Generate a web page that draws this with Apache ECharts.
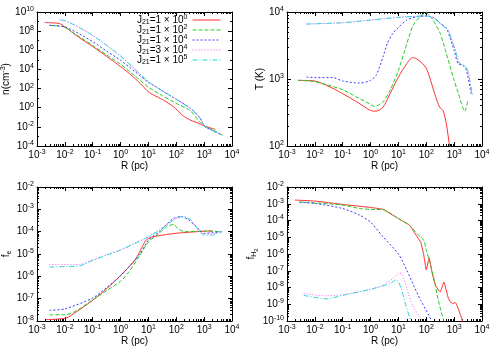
<!DOCTYPE html>
<html>
<head>
<meta charset="utf-8">
<script src="https://cdn.jsdelivr.net/npm/echarts@6/dist/echarts.min.js"></script>
<style>
html, body { margin: 0; padding: 0; background: #fff; }
#chart { width: 500px; height: 350px; }
</style>
</head>
<body>
<div id="chart"></div>
<script type="text/javascript">
var FONT = '"Liberation Sans", Arial, Helvetica, sans-serif';

// runs (J21 values)
var runNames = ['J0', 'J2', 'J4', 'J34', 'J5'];
var runLabels = ['J{sub|21}=1 × 10{sup|0}', 'J{sub|21}=1 × 10{sup|2}', 'J{sub|21}=1 × 10{sup|4}',
	'J{sub|21}=3 × 10{sup|4}', 'J{sub|21}=1 × 10{sup|5}'];
var runColors = ['#ff3030', '#22cc22', '#3a3aff', '#ff55ff', '#22d8d8'];
var runDash = ['solid', [4, 2], [2, 2], [1, 2], [5, 2, 1, 2]];

// tick values
var xTicks = [1e-3, 1e-2, 1e-1, 1, 10, 100, 1e3, 1e4];
var nTicks = [1e-4, 1e-2, 1, 1e2, 1e4, 1e6, 1e8, 1e10];
var nOddTicks = [1e-3, 1e-1, 10, 1e3, 1e5, 1e7, 1e9];
var tTicks = [100, 1e3, 1e4];
var feTicks = [1e-8, 1e-7, 1e-6, 1e-5, 1e-4, 1e-3, 1e-2];
var fhTicks = [1e-10, 1e-9, 1e-8, 1e-7, 1e-6, 1e-5, 1e-4, 1e-3, 1e-2];

// n (cm^-3) vs R (pc)
var nJ0 = [[1.9e-3, 7.9e8], [6.3e-3, 6.3e8], [0.01, 2.8e8], [0.032, 2.24e7], [0.1, 2.5e6], [0.32, 2.24e5],
	[1, 2e4], [2.8, 1.78e3], [6.3, 178], [10, 45], [16, 20], [32, 7.1], [80, 1.26], [178, 0.14],
	[316, 0.052], [720, 0.02], [1000, 0.0126], [2500, 5.5e-3]];
var nJ2 = [[2.8e-3, 4e8], [6.3e-3, 3.5e8], [0.01, 2.5e8], [0.032, 2.8e7], [0.1, 3.2e6], [0.32, 3.2e5],
	[1, 3.5e4], [3.2, 2.2e3], [10, 141], [32, 17.8], [100, 2.9], [316, 0.49], [720, 0.028],
	[1000, 0.0126], [2000, 5e-3], [4470, 1.4e-3]];
var nJ4 = [[2.8e-3, 4e8], [0.01, 2.8e8], [0.032, 5.6e7], [0.1, 7.9e6], [0.32, 7.9e5], [1, 8.9e4],
	[3.2, 6.3e3], [10, 450], [16, 200], [32, 56], [100, 7.6], [316, 0.9], [720, 0.08],
	[1000, 0.0126], [2000, 4e-3], [4470, 1.4e-3]];
var nJ34 = [[6.3e-3, 1.45e9], [0.01, 1.3e9], [0.032, 2.6e8], [0.1, 3.7e7], [0.32, 3.3e6], [1, 2.6e5],
	[3.2, 1.1e4], [10, 525], [32, 56], [100, 7.6], [316, 0.87], [720, 0.08], [1000, 0.0126],
	[2000, 4e-3], [4470, 1.4e-3]];
var nJ5 = [[7.1e-3, 1.4e9], [0.01, 1.26e9], [0.032, 2.5e8], [0.1, 3.5e7], [0.32, 3.2e6], [1, 2.5e5],
	[3.2, 1.1e4], [10, 525], [32, 56], [100, 7.6], [316, 0.87], [720, 0.08], [1000, 0.0126],
	[2000, 4e-3], [4470, 1.4e-3]];

// T (K) vs R (pc)
var tJ0 = [[2.5e-3, 955], [0.01, 933], [0.045, 724], [0.1, 603], [0.32, 457], [1, 339], [1.6, 331],
	[2.8, 380], [5, 603], [10, 1070], [20, 1700], [32, 2090], [50, 1950], [100, 1450], [200, 603],
	[300, 380], [400, 339], [525, 214], [690, 100], [890, 63]];
var tJ2 = [[2.5e-3, 955], [0.01, 912], [0.1, 692], [0.32, 537], [1, 417], [1.4, 389], [2.8, 457],
	[5, 676], [10, 1350], [17, 2690], [32, 6030], [59, 8510], [100, 9770], [174, 7590], [316, 4790],
	[525, 2400], [1000, 955], [1380, 631], [2400, 330], [3200, 490]];
var tJ4 = [[5e-3, 1070], [0.01, 1050], [0.045, 1050], [0.1, 933], [0.4, 871], [1, 955], [1.6, 1150],
	[2.8, 2140], [4, 3390], [6.3, 4790], [10, 5890], [20, 7590], [45, 8510], [100, 8710], [174, 8320],
	[316, 6760], [525, 5750], [690, 4270], [1000, 2690], [1380, 1700], [2090, 1580], [2750, 1350],
	[4070, 603]];
var tJ34 = [[5e-3, 6610], [0.1, 6920], [1, 7590], [10, 8320], [100, 8710], [200, 8130], [316, 6760],
	[600, 5370], [1000, 3020], [1580, 1700], [2400, 1580], [3160, 1290], [4470, 575]];
var tJ5 = [[5e-3, 6610], [0.1, 6920], [1, 7590], [10, 8320], [100, 8710], [200, 8130], [316, 6760],
	[600, 5370], [1000, 3020], [1580, 1700], [2400, 1580], [3160, 1290], [4470, 575]];

// f_e vs R (pc)
var feJ0 = [[2.1e-3, 1.15e-8], [0.011, 1.35e-8], [0.025, 2.5e-8], [0.1, 8.5e-8], [0.32, 2.8e-7],
	[1, 1.1e-6], [3.2, 5e-6], [5.6, 1.78e-5], [8, 4e-5], [12.6, 5.6e-5], [32, 7e-5], [100, 8.5e-5],
	[1000, 1.05e-4], [2000, 1.1e-4]];
var feJ2 = [[2.8e-3, 1.9e-8], [0.01, 1.9e-8], [0.025, 2.8e-8], [0.1, 8.9e-8], [0.32, 2.3e-7], [1, 6e-7],
	[2, 1.6e-6], [5, 8.9e-6], [10, 3.5e-5], [20, 6.9e-5], [45, 1.66e-4], [80, 2.1e-4], [112, 1.4e-4],
	[200, 1e-4], [1000, 1.05e-4], [4000, 1e-4]];
var feJ4 = [[2.8e-3, 3e-8], [0.01, 3.5e-8], [0.1, 1.07e-7], [0.32, 3.2e-7], [1, 1.05e-6], [5, 1.05e-5],
	[10, 4.2e-5], [25, 1e-4], [45, 2.1e-4], [80, 4e-4], [160, 4.7e-4], [280, 3.3e-4], [525, 1.66e-4],
	[690, 1.17e-4], [1000, 8.3e-5], [2000, 9.1e-5], [4470, 1e-4]];
var feJ34 = [[2.8e-3, 3.4e-6], [0.034, 3.4e-6], [0.1, 5.6e-6], [0.32, 9.3e-6], [1, 1.55e-5], [2.8, 2.8e-5],
	[10, 6e-5], [25, 1.2e-4], [80, 3.4e-4], [160, 4.8e-4], [316, 3.5e-4], [690, 1.05e-4], [1000, 8e-5],
	[2000, 8e-5], [4470, 1e-4]];
var feJ5 = [[2.8e-3, 2.6e-6], [0.01, 2.75e-6], [0.034, 2.95e-6], [0.1, 5.2e-6], [0.32, 8.9e-6], [1, 1.5e-5],
	[2.8, 2.7e-5], [10, 5.9e-5], [25, 1.17e-4], [80, 3.3e-4], [160, 4.7e-4], [316, 3.5e-4], [690, 1e-4],
	[1000, 6.9e-5], [2000, 7.2e-5], [4470, 1e-4]];

// f_H2 vs R (pc)
var fhJ0 = [[1.9e-3, 1.66e-3], [0.01, 1.45e-3], [0.1, 9.1e-4], [1, 6e-4], [2.8, 4.6e-4], [10, 1.3e-4],
	[25, 5.2e-5], [45, 1.2e-5], [63, 5e-6], [80, 1e-6], [100, 1.1e-7], [126, 6e-7], [160, 8e-8],
	[214, 1.35e-8], [316, 5.4e-9], [427, 2.1e-8], [630, 2.1e-9], [850, 1.07e-9], [1120, 1.26e-9],
	[2000, 1e-10], [2500, 3.2e-11]];
var fhJ2 = [[2.8e-3, 1.3e-3], [0.1, 8.3e-4], [0.4, 5.2e-4], [1, 4.6e-4], [2.8, 4.4e-4], [10, 1.3e-4],
	[25, 5.2e-5], [45, 1.7e-5], [80, 6.8e-6], [100, 1.7e-6], [150, 1.7e-7], [200, 2.1e-8], [263, 2.1e-9],
	[347, 3.4e-10], [427, 1e-10], [500, 4e-11]];
var fhJ4 = [[2.8e-3, 1.2e-3], [0.01, 1.05e-3], [0.1, 5.2e-4], [0.4, 2.1e-4], [1, 7.9e-5], [2.8, 1.07e-5],
	[10, 1e-6], [20, 1.07e-7], [35, 1.35e-8], [63, 1.7e-9], [126, 2.1e-10], [160, 8e-11]];
var fhJ34 = [[4e-3, 4.3e-9], [0.025, 3.2e-9], [0.1, 3.7e-9], [1, 7.9e-9], [2.8, 1.35e-8], [6.3, 3.4e-8],
	[11.2, 7.4e-8], [14.5, 5e-8], [20, 8.5e-9], [32, 8.5e-10], [59, 1.7e-10], [80, 8e-11]];
var fhJ5 = [[4e-3, 3.4e-9], [0.025, 2.1e-9], [0.1, 3.4e-9], [1, 7.9e-9], [5, 1.7e-8], [8.5, 2.95e-8],
	[12.6, 8.5e-9], [20, 5.4e-10], [28, 1e-10], [32, 5e-11]];

// minor log ticks 2..9 x 10^e between two exponents
function minorTicks(lo, hi) {
	var out = [];
	for (var e = lo; e < hi; e++) {
		for (var k = 2; k < 10; k++) out.push(k * Math.pow(10, e));
	}
	return out;
}

function powLabel(v) {
	return '10{s|' + Math.round(Math.log10(v)) + '}';
}

var nameRich = {
	s: { fontSize: 7, padding: [0, 0, 6, 0], fontFamily: FONT, color: '#000' },
	sub: { fontSize: 7, padding: [6, 0, 0, 0], fontFamily: FONT, color: '#000' },
	sub2: { fontSize: 6, padding: [10, 0, 0, 0], fontFamily: FONT, color: '#000' }
};

// 4 axes for one side pair: main (labels + major ticks), minor, mirror main, mirror minor
function logAxes(kind, g, min, max, major, minor, labels, name, nameGap) {
	var sides = kind === 'x' ? ['bottom', 'top'] : ['left', 'right'];
	var list = [];
	sides.forEach(function(p, i) {
		list.push({
			gridIndex: g, type: 'log', logBase: 10, min: min, max: max, position: p,
			axisLine: { show: true, onZero: false, lineStyle: { color: '#000', width: 1 } },
			axisTick: { show: true, inside: true, length: 4, customValues: major, lineStyle: { color: '#000', width: 1 } },
			axisLabel: i === 0 ? {
				show: true, customValues: labels, formatter: powLabel, margin: 3,
				color: '#000', fontSize: 10, fontFamily: FONT,
				rich: { s: { fontSize: 7, padding: [0, 0, 6, 0], fontFamily: FONT, color: '#000' } }
			} : { show: false },
			splitLine: { show: false },
			name: i === 0 ? name : '',
			nameLocation: 'middle',
			nameGap: nameGap,
			nameTextStyle: { color: '#000', fontSize: 10, fontFamily: FONT, rich: nameRich }
		});
		list.push({
			gridIndex: g, type: 'log', logBase: 10, min: min, max: max, position: p,
			axisLine: { show: false, onZero: false },
			axisTick: { show: true, inside: true, length: 2, customValues: minor, lineStyle: { color: '#000', width: 1 } },
			axisLabel: { show: false },
			splitLine: { show: false }
		});
	});
	return list;
}

var grids = [
	{ left: 37, top: 12, width: 195, height: 134 },
	{ left: 287, top: 12, width: 195, height: 134 },
	{ left: 37, top: 187, width: 195, height: 134 },
	{ left: 287, top: 187, width: 195, height: 134 }
];
grids.forEach(function(gr) { gr.outerBoundsMode = 'none'; gr.containLabel = false; });

var xMinor = minorTicks(-3, 4);
var xAxes = [], yAxes = [];
for (var g = 0; g < 4; g++) {
	xAxes = xAxes.concat(logAxes('x', g, 1e-3, 1e4, xTicks, xMinor, xTicks, 'R (pc)', 14));
}
yAxes = yAxes.concat(logAxes('y', 0, 1e-4, 1e10, nTicks, nOddTicks, nTicks, 'n(cm{s|-3})', 24));
yAxes = yAxes.concat(logAxes('y', 1, 100, 1e4, tTicks, minorTicks(2, 4), tTicks, 'T (K)', 19));
yAxes = yAxes.concat(logAxes('y', 2, 1e-8, 1e-2, feTicks, minorTicks(-8, -2), feTicks, 'f{sub|e}', 22));
yAxes = yAxes.concat(logAxes('y', 3, 1e-10, 1e-2, fhTicks, minorTicks(-10, -2), fhTicks, 'f{sub|H}{sub2|2}', 21));

var panels = [
	[nJ0, nJ2, nJ4, nJ34, nJ5],
	[tJ0, tJ2, tJ4, tJ34, tJ5],
	[feJ0, feJ2, feJ4, feJ34, feJ5],
	[fhJ0, fhJ2, fhJ4, fhJ34, fhJ5]
];

var series = [];
panels.forEach(function(sets, g) {
	sets.forEach(function(d, i) {
		series.push({
			name: runNames[i],
			type: 'line',
			xAxisIndex: g * 4,
			yAxisIndex: g * 4,
			data: d,
			symbol: 'none',
			showSymbol: false,
			smooth: (g === 3 && i === 0) ? 0.1 : 0.25,
			clip: true,
			z: 2 + i,
			lineStyle: { color: runColors[i], width: 1, type: runDash[i] },
			itemStyle: { color: runColors[i] }
		});
	});
});

var chart = echarts.init(document.getElementById('chart'), null, { renderer: 'canvas' });
chart.setOption({
	animation: false,
	backgroundColor: '#fff',
	grid: grids,
	xAxis: xAxes,
	yAxis: yAxes,
	legend: {
		data: runNames,
		orient: 'vertical',
		right: 279,
		top: 14,
		align: 'right',
		itemWidth: 28,
		itemHeight: 8,
		itemGap: -2,
		padding: 0,
		itemStyle: { opacity: 0 },
		lineStyle: { width: 1 },
		formatter: function(name) { return runLabels[runNames.indexOf(name)]; },
		textStyle: {
			color: '#000', fontSize: 10, fontFamily: FONT,
			rich: {
				sub: { fontSize: 7, padding: [5, 0, 0, 0], fontFamily: FONT, color: '#000' },
				sup: { fontSize: 7, padding: [0, 0, 5, 0], fontFamily: FONT, color: '#000' }
			}
		}
	},
	series: series
});
</script>
</body>
</html>
